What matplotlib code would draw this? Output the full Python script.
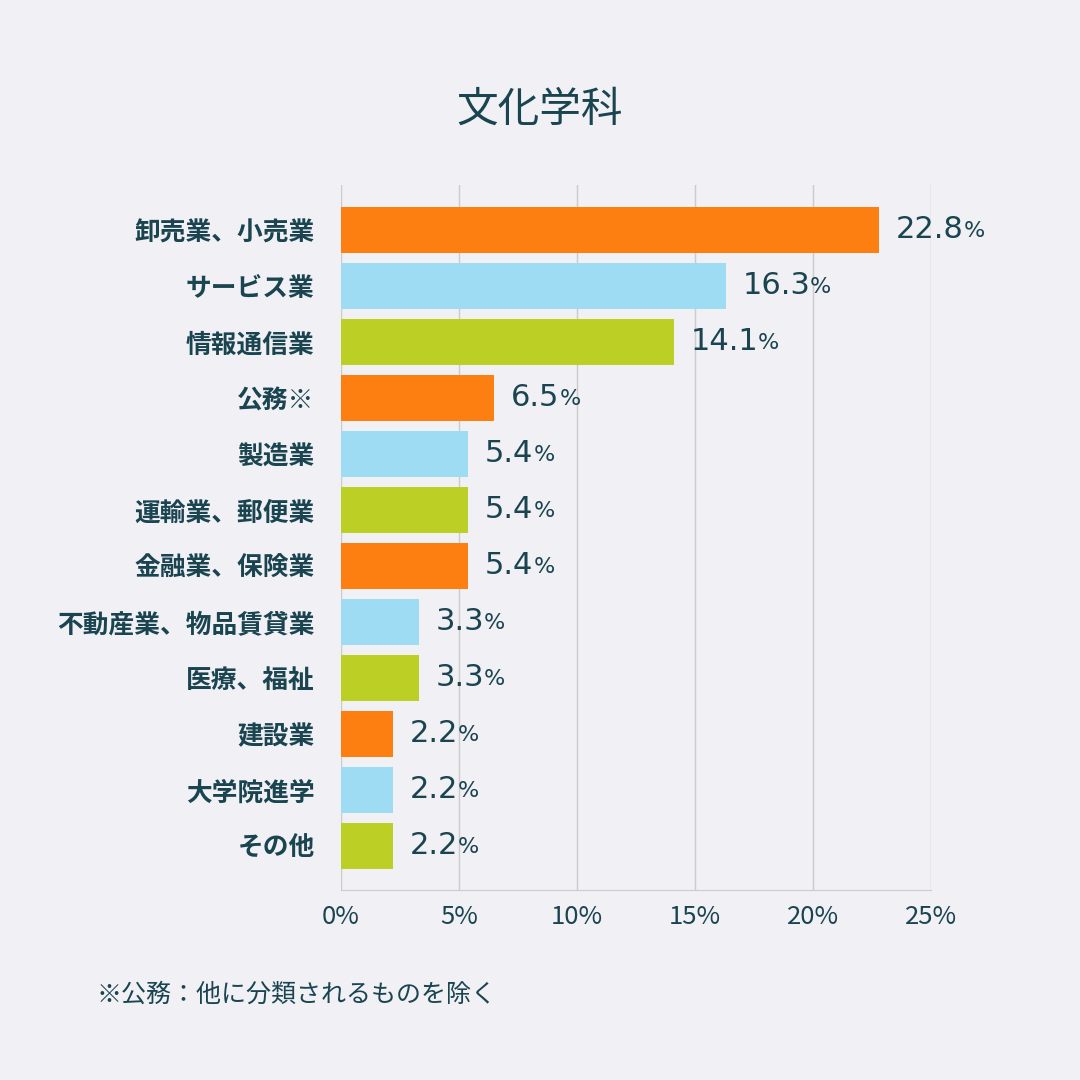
import matplotlib
matplotlib.use("Agg")
import matplotlib.pyplot as plt

plt.rcParams["font.family"] = "Noto Sans CJK JP"

categories = ["卸売業、小売業", "サービス業", "情報通信業", "公務※", "製造業", "運輸業、郵便業",
              "金融業、保険業", "不動産業、物品賃貸業", "医療、福祉", "建設業", "大学院進学", "その他"]
values = [22.8, 16.3, 14.1, 6.5, 5.4, 5.4, 5.4, 3.3, 3.3, 2.2, 2.2, 2.2]
ticks = [0, 5, 10, 15, 20, 25]
tick_labels = ["0%", "5%", "10%", "15%", "20%", "25%"]
palette = ["#fd7f11", "#9ddcf3", "#bccf25"]

bg = "#f0f0f5"
tc = "#1a4450"

fig = plt.figure(figsize=(10.8, 10.8), dpi=100, facecolor=bg)
ax = fig.add_axes([341/1080, 1-890/1080, 590/1080, 705/1080], facecolor=bg)
ys = list(range(len(categories)))
ax.barh(ys, values, height=0.83, color=[palette[i % 3] for i in ys], zorder=3)
ax.set_xlim(0, 25)
ax.set_ylim(11.79, -0.8)
ax.set_xticks(ticks)
ax.set_xticklabels(tick_labels, fontsize=18.5, color=tc)
ax.set_yticks(ys)
ax.set_yticklabels(categories, fontsize=18.5, color=tc, fontweight="bold")
ax.tick_params(length=0, pad=10)
ax.tick_params(axis="y", pad=19)
ax.grid(axis="x", color="#cccccc", linewidth=1, zorder=0)
for s in ["top", "right", "left"]:
    ax.spines[s].set_visible(False)
ax.spines["bottom"].set_color("#cccccc")

for y, v in zip(ys, values):
    t = ax.text(v + 0.7, y, f"{v:.1f}", fontsize=22, color=tc, va="center", ha="left",
                fontfamily="DejaVu Sans")
    ax.annotate("%", xy=(1, 0.1), xycoords=t, fontsize=16, color=tc, va="bottom", ha="left",
                fontfamily="DejaVu Sans")

fig.text(540/1080, 1-110/1080, "文化学科", fontsize=30, color=tc, ha="center", va="center")
fig.text(97/1080, 1-995/1080, "※公務：他に分類されるものを除く", fontsize=18, color=tc, ha="left", va="center")

fig.savefig("out.png", dpi=100, facecolor=bg)
